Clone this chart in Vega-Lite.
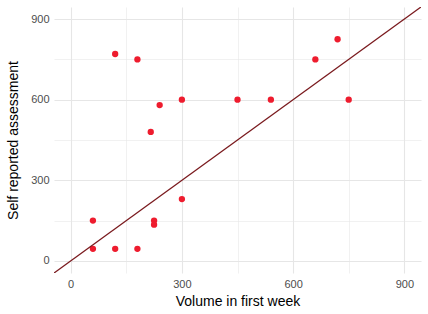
{
  "$schema": "https://vega.github.io/schema/vega-lite/v6.json",
  "autosize": "none",
  "width": 367,
  "height": 266,
  "padding": {"left": 54, "top": 7, "right": 7, "bottom": 41},
  "background": "white",
  "config": {
    "view": {"stroke": null},
    "font": "Liberation Sans",
    "axis": {
      "domain": false,
      "ticks": false,
      "gridColor": "#E6E6E6",
      "labelColor": "#4D4D4D",
      "labelFontSize": 11,
      "titleFontSize": 14,
      "titleFontWeight": "normal",
      "titleColor": "black"
    }
  },
  "layer": [
    {
      "data": {"values": [
        {"v": 60, "s": 150}, {"v": 60, "s": 45}, {"v": 120, "s": 45}, {"v": 180, "s": 45},
        {"v": 225, "s": 150}, {"v": 225, "s": 135}, {"v": 300, "s": 230},
        {"v": 120, "s": 770}, {"v": 180, "s": 750}, {"v": 240, "s": 580}, {"v": 216, "s": 480},
        {"v": 300, "s": 600}, {"v": 450, "s": 600}, {"v": 540, "s": 600}, {"v": 660, "s": 750},
        {"v": 720, "s": 825}, {"v": 750, "s": 600}
      ]},
      "mark": {"type": "circle", "size": 40, "opacity": 1, "color": "#EE1C2E"},
      "encoding": {
        "x": {
          "field": "v", "type": "quantitative",
          "scale": {"domain": [-45, 945], "nice": false, "zero": false},
          "axis": {
            "title": "Volume in first week",
            "values": [0, 150, 300, 450, 600, 750, 900],
            "labelExpr": "datum.value % 300 === 0 ? datum.label : ''",
            "gridWidth": {"condition": {"test": "datum.value % 300 === 0", "value": 1.1}, "value": 0.55},
            "labelPadding": 5,
            "titlePadding": 5
          }
        },
        "y": {
          "field": "s", "type": "quantitative",
          "scale": {"domain": [-45, 945], "nice": false, "zero": false},
          "axis": {
            "title": "Self reported assessment",
            "values": [0, 150, 300, 450, 600, 750, 900],
            "labelExpr": "datum.value % 300 === 0 ? datum.label : ''",
            "gridWidth": {"condition": {"test": "datum.value % 300 === 0", "value": 1.1}, "value": 0.55},
            "labelPadding": 5,
            "titlePadding": 10
          }
        }
      }
    },
    {
      "data": {"values": [{"v": -45, "s": -45}, {"v": 945, "s": 945}]},
      "mark": {"type": "line", "color": "#7A1A1E", "strokeWidth": 1.3, "clip": true},
      "encoding": {
        "x": {"field": "v", "type": "quantitative"},
        "y": {"field": "s", "type": "quantitative"}
      }
    }
  ]
}
